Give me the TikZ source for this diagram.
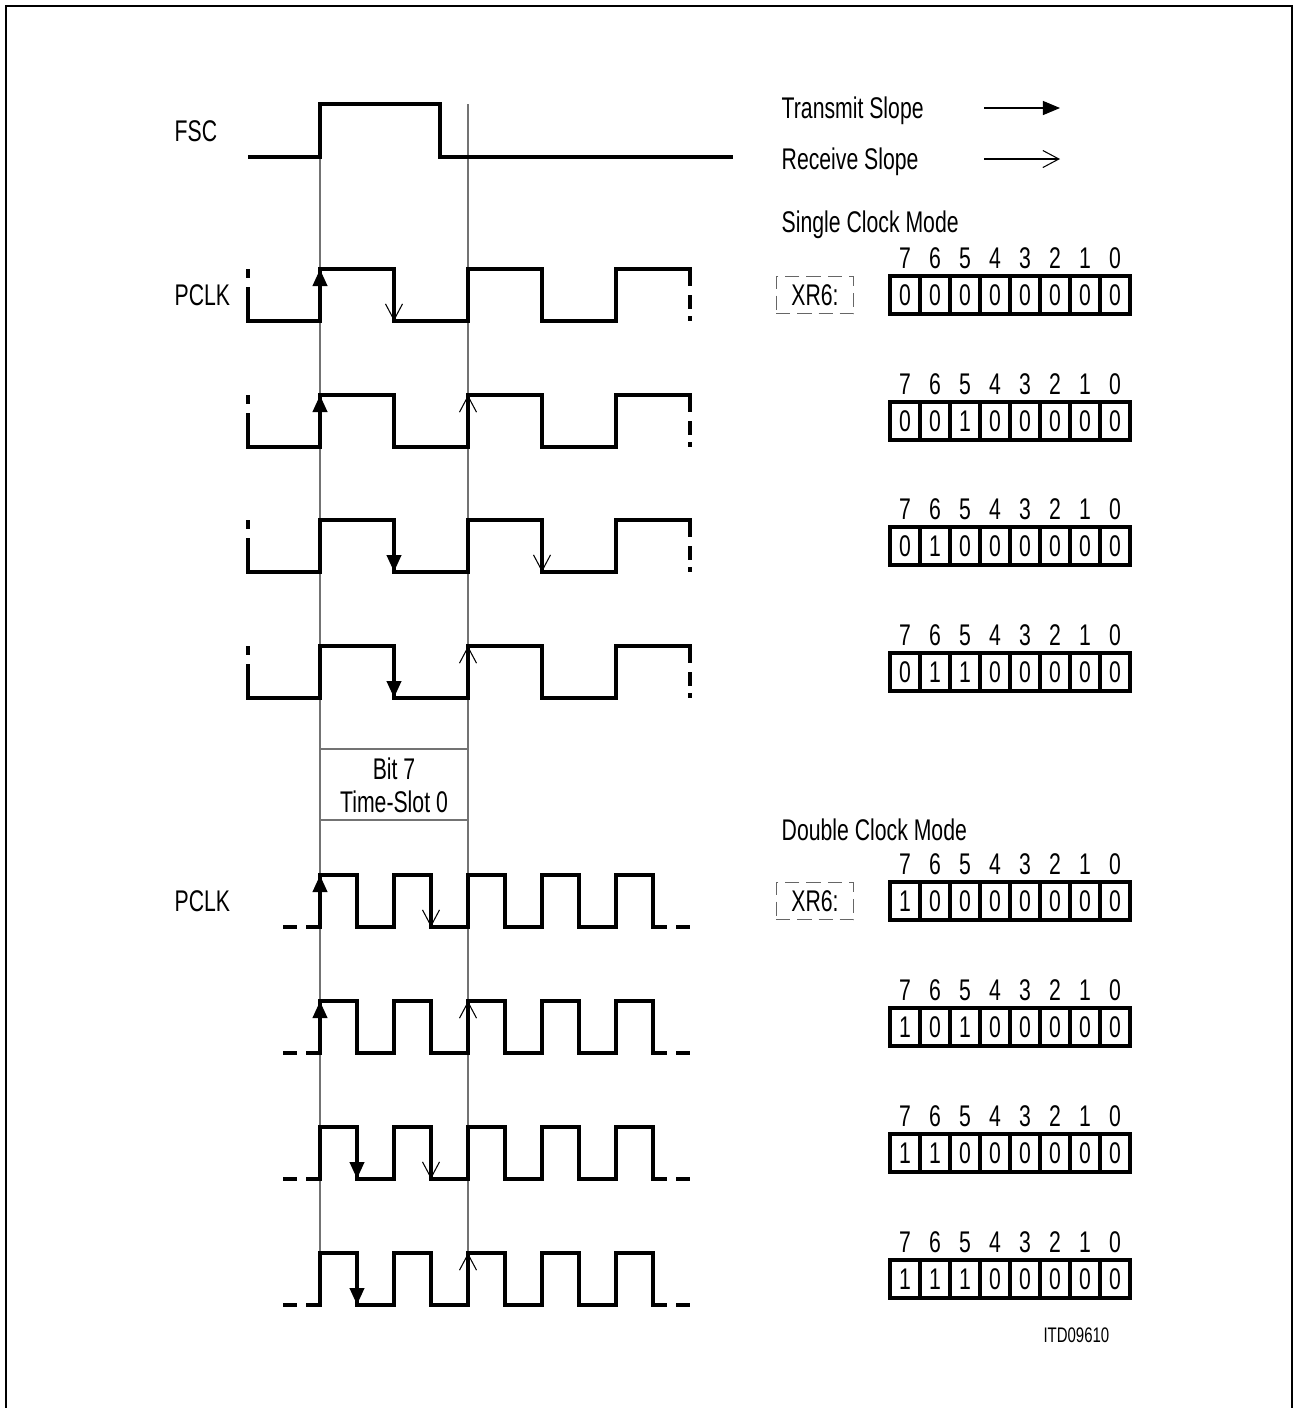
\documentclass[tikz,border=0pt]{standalone}
\usepackage{fontspec}
\setmainfont[FakeStretch=0.71]{Liberation Sans}
\usetikzlibrary{arrows.meta}
\tikzset{
  sig/.style={line width=1.1pt, line join=miter},
  guide/.style={line width=0.35pt, draw=black!55},
  fine/.style={line width=0.3pt},
  fnt/.style={font=\fontsize{8.5pt}{8.5pt}\selectfont, inner sep=0pt},
  lbl/.style={fnt, anchor=west, text height=0.213cm, text depth=0pt},
  txarr/.style={-{Triangle[length=0.17cm,width=0.14cm]}},
  rxarr/.style={-{Straight Barb[length=0.16cm,width=0.17cm]}},
  cell/.style={fnt, draw, line width=1.1pt, minimum width=0.3cm, minimum height=0.38cm, outer sep=0pt},
  regname/.style={fnt, draw=black!60, line width=0.3pt, dash pattern=on 0.14cm off 0.07cm, minimum width=0.77cm, minimum height=0.37cm}
}
\begin{document}
\begin{tikzpicture}[x=0.01cm, y=-0.01cm]
  \useasboundingbox (0,0) rectangle (1297,1408);
  % Frame
  \draw[line width=0.6pt] (6,1408) -- (6,6) -- (1292,6) -- (1292,1408);

  % Reference lines and time slot
  \draw[guide] (320,104) -- (320,1305);
  \draw[guide] (468,104) -- (468,1305);
  \draw[guide] (320,749) -- (468,749);
  \draw[guide] (320,820) -- (468,820);
  \node[fnt, align=center] (slot) at (394,785) {Bit 7\\[0.8pt]Time-Slot 0};

  % Legend
  \node[lbl] (txlbl) at (781,108) {Transmit Slope};
  \node[lbl] (rxlbl) at (781,159) {Receive Slope};
  \coordinate (txa) at (984,108);
  \coordinate (txb) at (1060,108);
  \coordinate (rxa) at (984,159);
  \coordinate (rxb) at (1060,159);
  \draw[fine, txarr] (txa) -- (txb);
  \draw[fine, rxarr] (rxa) -- (rxb);

  % FSC
  \node[lbl] (fsc) at (174,131) {FSC};
  \draw[sig] (248,157) -- (320,157) -- (320,104) -- (440,104) -- (440,157) -- (733,157);

  % Single clock mode
  \node[lbl] (single) at (781,222) {Single Clock Mode};
  \node[lbl] (pclks) at (174,295) {PCLK};
  \node[regname] (xrs) at (815,295) {XR6:};
  \foreach \m/\t/\td/\r/\rd/\bits in {295/320/1/394/-1/{0,0,0,0,0,0,0,0},
      421/320/1/468/1/{0,0,1,0,0,0,0,0}, 546/394/-1/542/-1/{0,1,0,0,0,0,0,0},
      672/394/-1/468/1/{0,1,1,0,0,0,0,0}} {
    \draw[sig] (248,{\m-8}) -- (248,{\m+26}) -- (320,{\m+26})
      \foreach \k in {0,1} { -- ++(0,-52) -- ++(74,0) -- ++(0,52) -- ++(74,0) }
      -- ++(0,-52) -- ++(74,0) -- ++(0,17);
    \draw[sig] (248,{\m-26}) -- (248,{\m-17});
    \draw[sig] (690,{\m}) -- (690,{\m+14});
    \draw[sig] (690,{\m+21}) -- (690,{\m+26});
    \draw[sig, txarr] (\t,{\m+26*(\td)}) -- (\t,{\m-26*(\td)});
    \draw[fine, rxarr] (\r,\m) -- (\r,{\m-26*(\rd)});
    \foreach \b [count=\i from 0] in \bits {
      \pgfmathtruncatemacro\n{7-\i}
      \node[cell] (s\m-\i) at ({905+30*\i},\m) {\b};
      \node[fnt] (sn\m-\i) at ({905+30*\i},{\m-37}) {\n};
    }
  }

  % Double clock mode
  \node[lbl] (double) at (781,830) {Double Clock Mode};
  \node[lbl] (pclkd) at (174,901) {PCLK};
  \node[regname] (xrd) at (815,901) {XR6:};
  \foreach \m/\t/\td/\r/\rd/\bits in {901/320/1/431/-1/{1,0,0,0,0,0,0,0},
      1027/320/1/468/1/{1,0,1,0,0,0,0,0}, 1153/357/-1/431/-1/{1,1,0,0,0,0,0,0},
      1279/357/-1/468/1/{1,1,1,0,0,0,0,0}} {
    \draw[sig] (283,{\m+26}) -- (297,{\m+26});
    \draw[sig] (306,{\m+26}) -- (320,{\m+26})
      \foreach \k in {0,...,3} { -- ++(0,-52) -- ++(37,0) -- ++(0,52) -- ++(37,0) }
      -- ++(0,-52) -- ++(37,0) -- ++(0,52) -- ++(14,0);
    \draw[sig] (676,{\m+26}) -- (690,{\m+26});
    \draw[sig, txarr] (\t,{\m+26*(\td)}) -- (\t,{\m-26*(\td)});
    \draw[fine, rxarr] (\r,\m) -- (\r,{\m-26*(\rd)});
    \foreach \b [count=\i from 0] in \bits {
      \pgfmathtruncatemacro\n{7-\i}
      \node[cell] (d\m-\i) at ({905+30*\i},\m) {\b};
      \node[fnt] (dn\m-\i) at ({905+30*\i},{\m-37}) {\n};
    }
  }

  \node[fnt, font=\fontsize{6pt}{6pt}\selectfont, anchor=east] (itd) at (1110,1335) {ITD09610};
\end{tikzpicture}
\end{document}
